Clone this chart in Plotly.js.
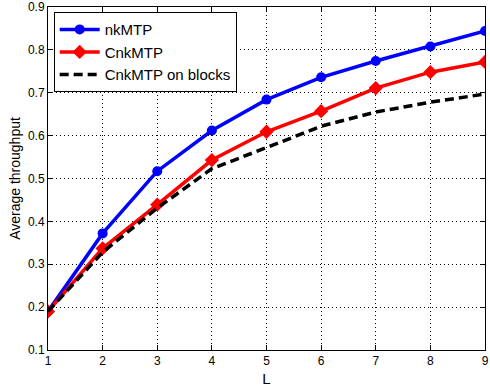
<!DOCTYPE html>
<html><head><meta charset="utf-8">
<script src="https://cdn.plot.ly/plotly-3.0.1.min.js"></script>
<style>body{margin:0;padding:0;background:#fff}#chart{width:490px;height:392px}</style>
</head><body><div id="chart"></div>
<script>
const L = [1, 2, 3, 4, 5, 6, 7, 8, 9];
const nkMTP = [0.19, 0.372, 0.517, 0.612, 0.684, 0.736, 0.774, 0.808, 0.844];
const CnkMTP = [0.19, 0.337, 0.439, 0.543, 0.609, 0.657, 0.711, 0.748, 0.772];
const CnkMTPBlocks = [0.19, 0.328, 0.431, 0.523, 0.572, 0.622, 0.655, 0.678, 0.697];

const font = {family: 'Liberation Sans, Arial, sans-serif', color: '#000'};
const data = [
  {x: L, y: nkMTP, name: 'nkMTP', mode: 'lines+markers', line: {color: '#0000ff', width: 3.5}, marker: {symbol: 'circle', size: 10, color: '#0000ff'}},
  {x: L, y: CnkMTP, name: 'CnkMTP', mode: 'lines+markers', line: {color: '#ff0000', width: 3.5}, marker: {symbol: 'diamond', size: 11, color: '#ff0000'}},
  {x: L, y: CnkMTPBlocks, name: 'CnkMTP on blocks', mode: 'lines', line: {color: '#000000', width: 3.5, dash: '9px,5px'}}
];
const axisCommon = {showline: true, linecolor: '#000', linewidth: 1, mirror: 'ticks', ticks: 'inside', ticklen: 5, tickcolor: '#000', showgrid: true, gridcolor: '#000', gridwidth: 1, griddash: '1px,3px', zeroline: false, tickfont: Object.assign({size: 12}, font)};
const layout = {
  width: 490, height: 392,
  margin: {l: 48, r: 5, t: 7, b: 42},
  paper_bgcolor: '#fff', plot_bgcolor: '#fff',
  font: font,
  showlegend: true,
  legend: {x: 0.013, y: 0.985, xanchor: 'left', yanchor: 'top', bgcolor: '#fff', bordercolor: '#000', borderwidth: 1, itemwidth: 40, font: Object.assign({size: 15}, font), tracegroupgap: 0},
  xaxis: Object.assign({}, axisCommon, {range: [1, 9], dtick: 1, title: {text: 'L', font: Object.assign({size: 15}, font), standoff: 6}}),
  yaxis: Object.assign({}, axisCommon, {range: [0.1, 0.9], dtick: 0.1, tickformat: '.1f', title: {text: 'Average throughput', font: Object.assign({size: 14}, font), standoff: 4}})
};
Plotly.newPlot('chart', data, layout, {displayModeBar: false, staticPlot: true});
</script></body></html>
